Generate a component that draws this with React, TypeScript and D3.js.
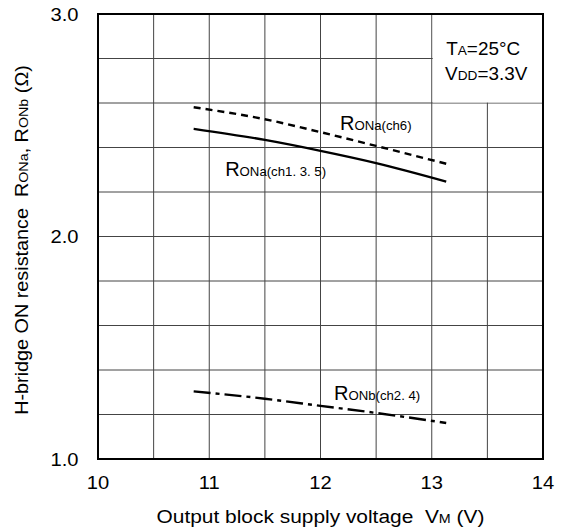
import React from 'react'
import * as d3 from 'd3'

// supply voltage VM (V)
const vm = [10.86, 11.5, 12, 12.5, 13.13]
// RONa (ch1, 3, 5), solid
const ronaCh135 = [2.484, 2.434, 2.385, 2.33, 2.247]
// RONa (ch6), dashed
const ronaCh6 = [2.581, 2.527, 2.469, 2.407, 2.327]
// RONb (ch2, 4), dash-dot
const ronbCh24 = [1.304, 1.271, 1.239, 1.207, 1.162]

const xTicks = [10, 11, 12, 13, 14]
const yTicks = [1.0, 2.0, 3.0]
const xGrid = d3.range(10, 14.01, 0.5)
const yGrid = d3.range(1, 3.01, 0.2)

const W = 565
const H = 531
const margin = { top: 14, right: 22, bottom: 72, left: 98 }
const FONT = '"Liberation Sans", Arial, Helvetica, sans-serif'

// the original lettering is slightly wider than Arial
function WideText({ x, y, sx = 1.12, rotate = 0, anchor = 'start', size, children }: any) {
  return (
    <text
      transform={`translate(${x},${y}) rotate(${rotate}) scale(${sx},1)`}
      fontSize={size}
      textAnchor={anchor}
      fill="#000"
    >
      {children}
    </text>
  )
}

export default function App() {
  const x = d3.scaleLinear().domain([10, 14]).range([margin.left, W - margin.right])
  const y = d3.scaleLinear().domain([1, 3]).range([H - margin.bottom, margin.top])

  const line = d3
    .line<number>()
    .x((_, i) => x(vm[i]))
    .y((d) => y(d))
    .curve(d3.curveMonotoneX)

  const series = [
    { values: ronaCh135, dash: undefined },
    { values: ronaCh6, dash: '7,5' },
    { values: ronbCh24, dash: '17,5,4,5' },
  ]

  return (
    <div style={{ position: 'absolute', left: 0, top: 0 }}>
      <svg width={W} height={H} style={{ display: 'block', fontFamily: FONT }}>
        <rect width={W} height={H} fill="#fff" />
        {/* grid */}
        <g stroke="#444" strokeWidth={1}>
          {xGrid.map((v) => (
            <line key={'gx' + v} x1={x(v)} x2={x(v)} y1={y(1)} y2={y(3)} />
          ))}
          {yGrid.map((v) => (
            <line key={'gy' + v} x1={x(10)} x2={x(14)} y1={y(v)} y2={y(v)} />
          ))}
        </g>
        {/* condition box hides the grid behind it */}
        <rect x={x(13) + 1} y={y(3)} width={x(14) - x(13) - 1} height={y(2.6) - y(3) - 0.5} fill="#fff" />

        {/* curves */}
        <g fill="none" stroke="#000" strokeWidth={2.4}>
          {series.map((s, i) => (
            <path key={i} d={line(s.values) || ''} strokeDasharray={s.dash} />
          ))}
        </g>

        {/* frame */}
        <rect
          x={x(10)}
          y={y(3)}
          width={x(14) - x(10)}
          height={y(1) - y(3)}
          fill="none"
          stroke="#000"
          strokeWidth={2}
        />

        {/* ticks */}
        {xTicks.map((v) => (
          <WideText key={'tx' + v} x={x(v)} y={489} size={18} anchor="middle">
            {v}
          </WideText>
        ))}
        {yTicks.map((v) => (
          <WideText key={'ty' + v} x={78.5} y={y(v) + 6.5} size={18} anchor="end">
            {v.toFixed(1)}
          </WideText>
        ))}

        {/* conditions */}
        <WideText x={x(13.13)} y={y(2.816)} size={18} sx={1.05}>
          T<tspan fontSize={13}>A</tspan>=25°C
        </WideText>
        <WideText x={x(13.12)} y={y(2.704)} size={18} sx={1.05}>
          V<tspan fontSize={13}>DD</tspan>=3.3V
        </WideText>

        {/* curve labels */}
        <WideText x={x(12.175)} y={y(2.479)} size={20} sx={1}>
          R<tspan fontSize={13.2}>ONa(ch6)</tspan>
        </WideText>
        <WideText x={x(11.143)} y={y(2.273)} size={20} sx={1}>
          R<tspan fontSize={13.2}>ONa(ch1. 3. 5)</tspan>
        </WideText>
        <WideText x={x(12.121)} y={y(1.263)} size={20} sx={1}>
          R<tspan fontSize={13.2}>ONb(ch2. 4)</tspan>
        </WideText>

        {/* axis titles */}
        <WideText x={x(12)} y={523} size={19} sx={1.1} anchor="middle">
          Output block supply voltage{'\u00a0 '}V<tspan fontSize={13}>M</tspan> (V)
        </WideText>
        <WideText x={27.5} y={240} size={18} sx={1.1} rotate={-90} anchor="middle">
          H-bridge ON resistance{'\u00a0 '}R<tspan fontSize={13}>ONa</tspan>, R
          <tspan fontSize={13}>ONb</tspan> (Ω)
        </WideText>
      </svg>
    </div>
  )
}
